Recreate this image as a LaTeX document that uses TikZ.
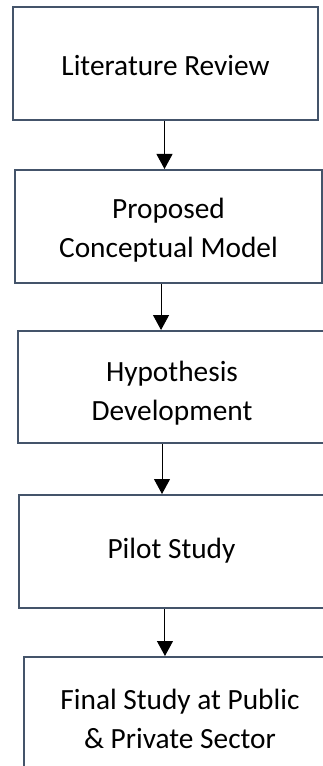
\documentclass[tikz,border=0pt]{standalone}
\usepackage{fontspec}
\setmainfont{Carlito}
\usetikzlibrary{arrows.meta}
\definecolor{boxline}{HTML}{44546A}
\begin{document}
\begin{tikzpicture}[x=0.75pt,y=-0.75pt,
  stage/.style={draw=boxline, line width=1.5pt, fill=white, rectangle, inner sep=0pt},
  caption/.style={inner sep=0pt, align=center, font=\fontsize{22}{29.25}\selectfont},
  flow/.style={draw=black, line width=0.75pt,
    -{Triangle[length=11.25pt,width=12pt]}}]
\useasboundingbox (0,0) rectangle (323,766);

% research stages, top to bottom
\node[stage, minimum width=228.75pt, minimum height=84.75pt] (lit) at (165.5,63.5) {};
\node[stage, minimum width=230.25pt, minimum height=84.75pt] (model) at (168.5,226.5) {};
\node[stage, minimum width=231pt, minimum height=84pt] (hyp) at (172,387) {};
\node[stage, minimum width=228.75pt, minimum height=84.75pt] (pilot) at (171.5,551.5) {};
\node[stage, minimum width=234pt, minimum height=94.5pt] (final) at (180,720) {};

% stage titles
\node[caption] (lit-t) at ([yshift=-1.5pt]lit.center) {Literature Review};
\node[caption] (model-t) at ([yshift=-3pt]model.center) {Proposed\\Conceptual Model};
\node[caption] (hyp-t) at ([yshift=-4.5pt]hyp.center) {Hypothesis\\Development};
\node[caption] (pilot-t) at ([yshift=0.75pt]pilot.center) {Pilot Study};
\node[caption] (final-t) at ([yshift=0.75pt]final.center) {Final Study at Public\\\& Private Sector};

% connectors between stages
\draw[flow] ([xshift=-0.75pt]lit.south) -- ([xshift=-0.75pt]lit.south |- model.north);
\draw[flow] ([xshift=-5.6pt]model.south) -- ([xshift=-5.6pt]model.south |- hyp.north);
\draw[flow] ([xshift=-7.5pt]hyp.south) -- ([xshift=-7.5pt]hyp.south |- pilot.north);
\draw[flow] ([xshift=-4.9pt]pilot.south) -- ([xshift=-4.9pt]pilot.south |- final.north);
\end{tikzpicture}
\end{document}
